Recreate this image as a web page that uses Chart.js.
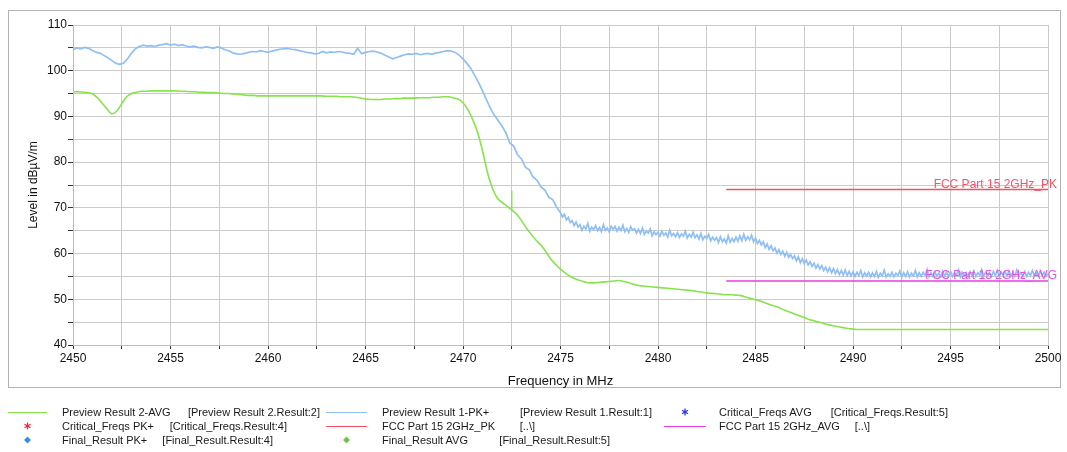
<!DOCTYPE html>
<html>
<head>
<meta charset="utf-8">
<script src="https://cdn.jsdelivr.net/npm/chart.js@4.4.1/dist/chart.umd.min.js"></script>
<style>
  body { margin: 0; background: #fff; font-family: "Liberation Sans", Arial, sans-serif; }
  #wrap { position: relative; width: 1067px; height: 452px; overflow: hidden; }
  #chart { position: absolute; left: 0; top: 0; }
  #legend { position: absolute; left: 0; top: 0; width: 1067px; height: 452px; }
  .txt { position: absolute; font-size: 11px; line-height: 13px; color: #1a1a1a; white-space: pre; }
  svg { position: absolute; left: 0; top: 0; }
</style>
</head>
<body>
<div id="wrap">
  <canvas id="chart" width="1067" height="392"></canvas>
  <div id="legend"></div>
</div>
<script>
//********************
// DATA
//********************
const sweepStart = 2450;      // MHz
const pkStepLow = 0.2;        // PK+ sweep step, 2450 .. 2474.8 MHz
const pkHighStart = 2475;     // MHz
const pkStepHigh = 0.1;       // PK+ sweep step, 2475 .. 2500 MHz
const avgStep = 0.25;         // AVG sweep step

// Preview Result 1-PK+ (dBµV/m), 2450.0 .. 2474.8 MHz
const pkLevelsLow = [
  104.6, 105.0, 104.8, 105.1, 104.9, 104.4, 104.0, 103.8, 103.3, 102.8,
  102.2, 101.6, 101.4, 101.7, 102.6, 103.8, 104.8, 105.3, 105.6, 105.4,
  105.5, 105.3, 105.6, 105.7, 105.9, 105.6, 105.8, 105.5, 105.7, 105.4,
  105.2, 105.4, 105.1, 105.0, 105.2, 105.1, 104.9, 105.2, 105.0, 104.6,
  104.3, 103.9, 103.7, 103.6, 103.8, 104.0, 104.2, 104.1, 104.4, 104.2,
  104.0, 104.3, 104.5, 104.7, 104.8, 104.9, 104.7, 104.6, 104.4, 104.2,
  104.0, 103.9, 103.7, 103.8, 104.2, 103.9, 104.1, 104.0, 104.2, 104.1,
  103.9, 103.8, 103.6, 104.9, 103.7, 104.0, 104.2, 104.3, 104.1, 103.8,
  103.4, 103.0, 102.6, 102.9, 103.2, 103.5, 103.7, 103.6, 103.8, 103.5,
  103.7, 103.8, 103.6, 103.9, 104.0, 104.2, 104.4, 104.3, 104.0, 103.4,
  102.6, 101.6, 100.5, 99.0, 97.4, 95.6, 93.7, 91.8, 90.3, 89.1,
  87.9, 86.4, 84.2, 83.5, 81.6, 80.7, 78.9, 78.3, 76.7, 76.0,
  74.6, 73.9, 72.3, 71.8, 70.2
];

// Preview Result 1-PK+ (dBµV/m), 2475.0 .. 2500.0 MHz
const pkLevelsHigh = [
  68.9, 68.0, 68.6, 67.4, 67.9, 66.8, 67.2, 66.1, 66.9, 65.8,
  66.3, 65.1, 66.0, 65.4, 66.6, 64.9, 65.8, 65.2, 66.1, 65.0,
  65.7, 64.8, 66.3, 65.1, 65.6, 64.7, 66.0, 65.3, 65.9, 64.9,
  65.8, 65.0, 66.2, 64.8, 65.5, 64.6, 65.9, 65.1, 65.4, 64.5,
  65.3, 64.4, 65.6, 64.2, 64.9, 64.5, 65.4, 63.9, 64.8, 64.1,
  64.7, 63.8, 64.9, 64.0, 64.5, 63.6, 65.1, 63.9, 64.4, 63.7,
  64.6, 63.5, 64.3, 63.8, 64.9, 63.4, 64.2, 63.6, 64.7, 63.5,
  64.1, 63.2, 64.4, 63.0, 63.8, 63.3, 64.2, 62.8, 63.6, 62.9,
  63.5, 62.4, 63.7, 62.6, 63.2, 62.3, 63.9, 62.5, 63.3, 62.6,
  63.6, 62.7, 63.9, 62.8, 64.2, 62.9, 63.7, 63.0, 64.0, 62.6,
  63.4, 62.2, 62.9, 61.9, 62.6, 61.3, 62.1, 60.9, 61.7, 60.6,
  61.2, 60.1, 60.9, 59.8, 60.5, 59.4, 60.3, 59.2, 59.8, 58.9,
  59.5, 58.4, 59.3, 58.0, 58.9, 57.8, 58.6, 57.5, 58.2, 57.2,
  57.9, 56.8, 57.6, 56.6, 57.4, 56.3, 57.0, 56.0, 56.9, 55.8,
  56.7, 55.6, 56.5, 55.4, 56.3, 55.3, 56.4, 55.2, 56.1, 55.1,
  56.0, 55.0, 55.9, 55.2, 56.3, 54.9, 55.8, 55.1, 55.9, 54.9,
  55.8, 55.0, 56.1, 54.8, 55.7, 55.1, 56.4, 54.9, 55.6, 55.0,
  55.9, 54.9, 55.7, 55.2, 56.2, 54.8, 55.8, 55.0, 56.0, 54.9,
  55.7, 55.1, 56.3, 54.9, 55.8, 55.0, 55.9, 55.2, 56.5, 54.9,
  55.8, 55.0, 56.0, 55.1, 55.7, 54.9, 56.2, 55.1, 55.9, 55.0,
  56.1, 55.0, 55.8, 55.2, 56.4, 54.9, 55.9, 55.1, 55.8, 55.0,
  56.0, 55.1, 56.2, 55.0, 55.8, 55.3, 56.5, 55.0, 55.9, 55.1,
  55.8, 55.0, 56.1, 55.2, 56.3, 55.0, 55.9, 55.2, 56.0, 55.1,
  56.2, 55.1, 55.9, 55.0, 56.4, 55.2, 55.8, 55.1, 56.1, 55.0,
  55.9, 55.2, 56.3, 55.1, 55.8, 55.0, 56.2, 55.2, 55.9, 55.1,
  55.6
];

// Preview Result 2-AVG (dBµV/m), 2450 .. 2500 MHz
const avgLevels = [
  95.4, 95.4, 95.3, 95.2, 94.9, 94.1, 92.9, 91.6,
  90.6, 91.2, 92.8, 94.3, 95.0, 95.3, 95.5, 95.5,
  95.6, 95.6, 95.6, 95.6, 95.6, 95.6, 95.5, 95.5,
  95.4, 95.4, 95.3, 95.3, 95.2, 95.2, 95.1, 95.0,
  95.0, 94.9, 94.8, 94.7, 94.6, 94.6, 94.5, 94.5,
  94.5, 94.5, 94.5, 94.5, 94.5, 94.5, 94.5, 94.5,
  94.5, 94.5, 94.5, 94.5, 94.4, 94.4, 94.4, 94.3,
  94.3, 94.3, 94.2, 94.0, 93.8, 93.7, 93.7, 93.7,
  93.8, 93.8, 93.9, 93.9, 94.0, 94.0, 94.0, 94.1,
  94.1, 94.1, 94.2, 94.2, 94.3, 94.3, 94.1, 93.8,
  93.0, 91.5, 89.3, 86.5, 82.5, 77.8, 74.4, 72.2,
  71.2, 70.4, 69.5, 68.6, 67.2, 65.6, 64.2, 62.9,
  61.8, 60.4, 58.8, 57.6, 56.6, 55.7, 55.0, 54.5,
  54.1, 53.8, 53.6, 53.6, 53.7, 53.8, 53.9, 54.0,
  54.1, 53.9, 53.6, 53.3, 53.0, 52.9, 52.8, 52.7,
  52.6, 52.5, 52.4, 52.3, 52.2, 52.1, 52.0, 51.9,
  51.7, 51.6, 51.4, 51.3, 51.2, 51.1, 51.0, 51.0,
  50.9, 50.8, 50.5, 50.2, 49.9, 49.6, 49.2, 48.8,
  48.5, 48.1, 47.6, 47.2, 46.8, 46.4, 46.0, 45.6,
  45.3, 45.0, 44.7, 44.4, 44.2, 44.0, 43.8, 43.6,
  43.5, 43.4, 43.4, 43.4, 43.4, 43.4, 43.4, 43.4,
  43.4, 43.4, 43.4, 43.4, 43.4, 43.4, 43.4, 43.4,
  43.4, 43.4, 43.4, 43.4, 43.4, 43.4, 43.4, 43.4,
  43.4, 43.4, 43.4, 43.4, 43.4, 43.4, 43.4, 43.4,
  43.4, 43.4, 43.4, 43.4, 43.4, 43.4, 43.4, 43.4,
  43.4
];

// short glitch on the AVG trace
const avgSpikeFreq = [2472.5, 2472.5];
const avgSpikeLevel = [69.4, 73.8];

// FCC limit lines
const limitFreq = [2483.5, 2500];
const pkLimit = [74, 74];
const avgLimit = [54, 54];
const limitNames = ["FCC Part 15 2GHz_PK", "FCC Part 15 2GHz_AVG"];

// axes
const freqMin = 2450, freqMax = 2500, freqStep = 2.5, freqLabelEvery = 5;
const levelMin = 40, levelMax = 110, levelStep = 5, levelLabelEvery = 10;

//********************
// COLOURS
//********************
const pkColor = "#8fbff3";
const avgColor = "#86e34a";
const pkLimitColor = "#f4505f";
const avgLimitColor = "#e43ee0";

function sweep(levels, start, step) {
  return levels.map((v, i) => ({ x: +(start + i * step).toFixed(2), y: v }));
}
function pairs(xs, ys) {
  return xs.map((x, i) => ({ x: x, y: ys[i] }));
}

//********************
// PLUGINS
//********************
const framePlugin = {
  id: 'frame',
  beforeDraw(chart) {
    const c = chart.ctx;
    c.save();
    c.fillStyle = '#fff';
    c.fillRect(0, 0, chart.width, chart.height);
    c.strokeStyle = '#b4b4b4';
    c.lineWidth = 1;
    c.strokeRect(8.5, 10.5, 1052, 377);
    c.restore();
  }
};

const limitLabelPlugin = {
  id: 'limitLabels',
  afterDatasetsDraw(chart) {
    const c = chart.ctx;
    const y = chart.scales.y;
    const right = chart.chartArea.right + 9;
    c.save();
    c.font = '12px "Liberation Sans", Arial, sans-serif';
    c.textAlign = 'right';
    c.textBaseline = 'alphabetic';
    c.fillStyle = '#f0566c';
    c.fillText(limitNames[0], right, y.getPixelForValue(pkLimit[0]) - 2);
    c.fillStyle = '#e650e4';
    c.fillText(limitNames[1], right, y.getPixelForValue(avgLimit[0]) - 2);
    c.restore();
  }
};

//********************
// CHART
//********************
const pkPoints = sweep(pkLevelsLow, sweepStart, pkStepLow)
  .concat(sweep(pkLevelsHigh, pkHighStart, pkStepHigh));

const ctx = document.getElementById("chart");
const chart = new Chart(ctx, {
  type: 'line',
  data: {
    datasets: [
      {
        label: limitNames[1],
        data: pairs(limitFreq, avgLimit),
        borderColor: avgLimitColor,
        borderWidth: 1.5,
        order: 0
      },
      {
        label: limitNames[0],
        data: pairs(limitFreq, pkLimit),
        borderColor: pkLimitColor,
        borderWidth: 1.5,
        order: 1
      },
      {
        label: 'Preview Result 2-AVG',
        data: sweep(avgLevels, sweepStart, avgStep),
        borderColor: avgColor,
        borderWidth: 1.6,
        cubicInterpolationMode: 'monotone',
        order: 2
      },
      {
        label: 'AVG glitch',
        data: pairs(avgSpikeFreq, avgSpikeLevel),
        borderColor: avgColor,
        borderWidth: 1.4,
        order: 2
      },
      {
        label: 'Preview Result 1-PK+',
        data: pkPoints,
        borderColor: pkColor,
        borderWidth: 1.7,
        tension: 0,
        order: 3
      }
    ]
  },
  options: {
    responsive: false,
    animation: false,
    devicePixelRatio: 1,
    layout: { padding: { top: 25, right: 19, bottom: 0, left: 0 } },
    elements: { point: { radius: 0 }, line: { fill: false } },
    plugins: { legend: { display: false }, tooltip: { enabled: false } },
    scales: {
      x: {
        type: 'linear',
        min: freqMin,
        max: freqMax,
        afterFit(scale) { scale.height = 47; },
        ticks: {
          stepSize: freqStep,
          autoSkip: false,
          maxRotation: 0,
          padding: 2,
          color: '#111',
          font: { family: '"Liberation Sans", Arial, sans-serif', size: 12 },
          callback: (v) => (v % freqLabelEvery === 0 ? String(v) : '')
        },
        grid: { color: '#cbcbcb', lineWidth: 1, tickColor: '#333', tickLength: 4 },
        border: { color: '#bdbdbd' },
        title: {
          display: true,
          text: 'Frequency in MHz',
          color: '#111',
          font: { family: '"Liberation Sans", Arial, sans-serif', size: 13 },
          padding: { top: 0, bottom: 3 }
        }
      },
      y: {
        min: levelMin,
        max: levelMax,
        afterFit(scale) { scale.width = 73; },
        ticks: {
          stepSize: levelStep,
          padding: 1,
          color: '#111',
          font: { family: '"Liberation Sans", Arial, sans-serif', size: 12 },
          callback: (v) => (v % levelLabelEvery === 0 ? String(v) : '')
        },
        grid: { color: '#cbcbcb', lineWidth: 1, tickColor: '#333', tickLength: 5 },
        border: { color: '#bdbdbd' },
        title: {
          display: true,
          text: 'Level in dBµV/m',
          color: '#111',
          font: { family: '"Liberation Sans", Arial, sans-serif', size: 12 },
          padding: { top: 26, bottom: 0 }
        }
      }
    }
  },
  plugins: [framePlugin, limitLabelPlugin]
});

//********************
// LEGEND (3 columns)
//********************
const legendCols = [
  { x0: 8, x1: 47, tx: 62 },
  { x0: 326, x1: 367, tx: 382 },
  { x0: 664, x1: 706, tx: 719 }
];
const legendRows = [412, 426, 440];

const legendItems = [
  { col: 0, row: 0, mark: 'line', color: avgColor, name: 'Preview Result 2-AVG', ref: '[Preview Result 2.Result:2]', refEnd: 320 },
  { col: 1, row: 0, mark: 'line', color: pkColor, name: 'Preview Result 1-PK+', ref: '[Preview Result 1.Result:1]', refEnd: 652 },
  { col: 2, row: 0, mark: 'star', color: '#2a34e0', name: 'Critical_Freqs AVG', ref: '[Critical_Freqs.Result:5]', refEnd: 948 },
  { col: 0, row: 1, mark: 'star', color: '#f02840', name: 'Critical_Freqs PK+', ref: '[Critical_Freqs.Result:4]', refEnd: 287 },
  { col: 1, row: 1, mark: 'line', color: pkLimitColor, name: 'FCC Part 15 2GHz_PK', ref: '[..\\]', refEnd: 535 },
  { col: 2, row: 1, mark: 'line', color: avgLimitColor, name: 'FCC Part 15 2GHz_AVG', ref: '[..\\]', refEnd: 870 },
  { col: 0, row: 2, mark: 'diamond', color: '#3e8fd4', name: 'Final_Result PK+', ref: '[Final_Result.Result:4]', refEnd: 273 },
  { col: 1, row: 2, mark: 'diamond', color: '#74c052', name: 'Final_Result AVG', ref: '[Final_Result.Result:5]', refEnd: 610 }
];

const legendEl = document.getElementById('legend');
let svg = '<svg width="1067" height="452">';
legendItems.forEach((it) => {
  const c = legendCols[it.col];
  const cy = legendRows[it.row];
  const cx = (c.x0 + c.x1) / 2;
  if (it.mark === 'line') {
    svg += `<line x1="${c.x0}" y1="${cy + 0.5}" x2="${c.x1}" y2="${cy + 0.5}" stroke="${it.color}" stroke-width="1.2"/>`;
  } else if (it.mark === 'star') {
    svg += `<g stroke="${it.color}" stroke-width="1.3">` +
      `<line x1="${cx}" y1="${cy - 3.5}" x2="${cx}" y2="${cy + 3.5}"/>` +
      `<line x1="${cx - 3}" y1="${cy - 1.8}" x2="${cx + 3}" y2="${cy + 1.8}"/>` +
      `<line x1="${cx - 3}" y1="${cy + 1.8}" x2="${cx + 3}" y2="${cy - 1.8}"/></g>`;
  } else {
    svg += `<path d="M${cx} ${cy - 3.5} L${cx + 3.5} ${cy} L${cx} ${cy + 3.5} L${cx - 3.5} ${cy} Z" fill="${it.color}"/>`;
  }
});
svg += '</svg>';

let html = svg;
legendItems.forEach((it) => {
  const c = legendCols[it.col];
  const top = legendRows[it.row] - 6.5;
  html += `<div class="txt" style="left:${c.tx}px;top:${top}px">${it.name}</div>`;
  html += `<div class="txt" style="right:${1067 - it.refEnd}px;top:${top}px">${it.ref}</div>`;
});
legendEl.innerHTML = html;
</script>
</body>
</html>
